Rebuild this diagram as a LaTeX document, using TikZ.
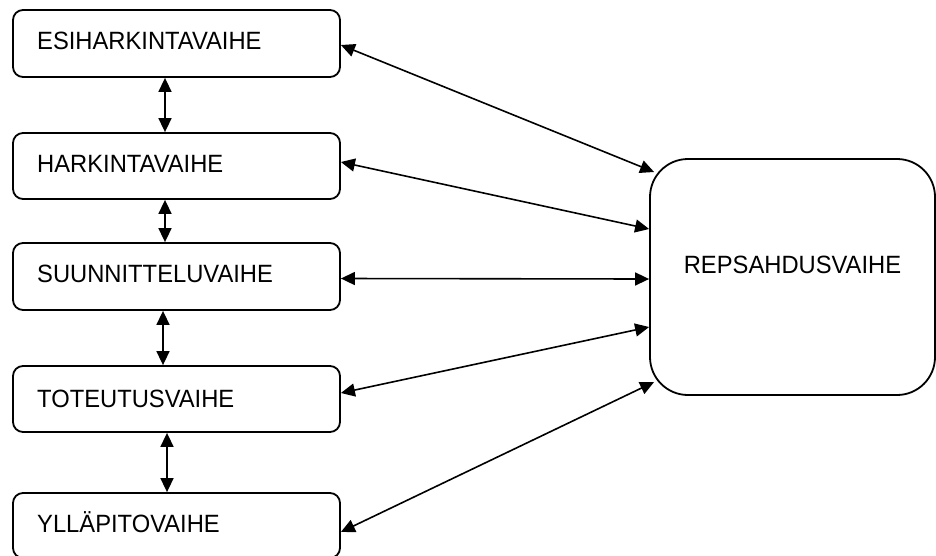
\documentclass[tikz,border=0pt]{standalone}
\usepackage{fontspec}
\setmainfont[FakeStretch=0.95]{Liberation Sans}
\usetikzlibrary{arrows.meta}
\tikzset{
  box/.style={draw, line width=1.8pt, rounded corners=10pt, minimum width=327pt, inner sep=0pt},
  bigbox/.style={draw, line width=1.8pt, rounded corners=38pt, minimum width=285pt, minimum height=236pt, inner sep=0pt},
  lbl/.style={inner sep=0pt, font=\fontsize{25}{30}\selectfont},
  arr/.style={line width=1.6pt, {Triangle[length=14pt,width=13pt]}-{Triangle[length=14pt,width=13pt]}}
}
\begin{document}
\begin{tikzpicture}[x=1pt,y=-1pt]
\useasboundingbox (0,0) rectangle (936,555);
\node[box, minimum height=67pt] (b1) at (176.5,43.5) {};
\node[box, minimum height=66pt] (b2) at (176.5,166) {};
\node[box, minimum height=67pt] (b3) at (176.5,276.5) {};
\node[box, minimum height=66pt] (b4) at (176.5,399) {};
\node[box, minimum height=65pt] (b5) at (176.5,525.5) {};
\node[bigbox] (R) at (792.5,277) {};
\node[lbl, anchor=base west] (t1) at (37,49) {ESIHARKINTAVAIHE};
\node[lbl, anchor=base west] (t2) at (37,172) {HARKINTAVAIHE};
\node[lbl, anchor=base west] (t3) at (37,282) {SUUNNITTELUVAIHE};
\node[lbl, anchor=base west] (t4) at (37,407) {TOTEUTUSVAIHE};
\node[lbl, anchor=base west] (t5) at (37,532) {YLLÄPITOVAIHE};
\node[lbl, anchor=base] (tR) at (792.5,273) {REPSAHDUSVAIHE};
% vertical arrows
\draw[arr] ([xshift=-11.5pt]b1.south) -- ([xshift=-11.5pt]b2.north);
\draw[arr] ([xshift=-11.5pt]b2.south) -- ([xshift=-11.5pt]b3.north);
\draw[arr] ([xshift=-13.5pt]b3.south) -- ([xshift=-13.5pt]b4.north);
\draw[arr] ([xshift=-9.5pt]b4.south) -- ([xshift=-9.5pt]b5.north);
% arrows to the right box
\draw[arr] ([yshift=-1.5pt]b1.east) -- ([xshift=5pt,yshift=105pt]R.west);
\draw[arr] ([yshift=4pt]b2.east) -- ([yshift=48pt]R.west);
\draw[arr] ([yshift=-2pt]b3.east) -- ([yshift=-2pt]R.west);
\draw[arr] ([yshift=6pt]b4.east) -- ([yshift=-50pt]R.west);
\draw[arr] ([yshift=-6.5pt]b5.east) -- ([xshift=5pt,yshift=-105pt]R.west);
\end{tikzpicture}
\end{document}
